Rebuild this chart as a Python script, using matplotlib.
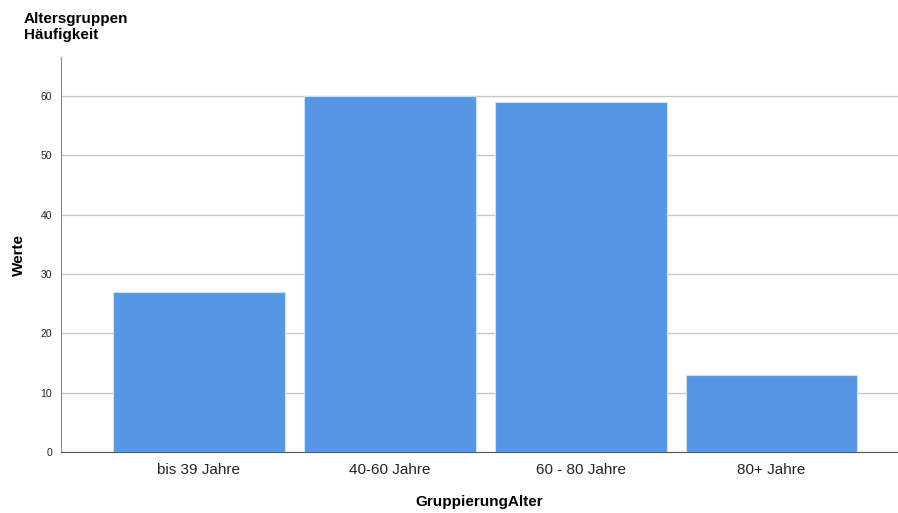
import matplotlib
matplotlib.use('Agg')
import matplotlib.pyplot as plt
import numpy as np

categories = ['bis 39 Jahre', '40-60 Jahre', '60 - 80 Jahre', '80+ Jahre']
counts = [27, 60, 59, 13]
y_ticks = [0, 10, 20, 30, 40, 50, 60]

plt.rcParams['font.family'] = ['Liberation Sans', 'DejaVu Sans']


def main():
    fig = plt.figure(figsize=(8.98, 5.13), dpi=100)
    ax = fig.add_axes([61 / 898, 1 - 452 / 513, 1 - 61 / 898, (452 - 57) / 513])

    x = np.arange(len(categories))
    ax.bar(x, counts, width=0.9, color='#5596e6', edgecolor='#cfe0f7',
           linewidth=0.8, zorder=3)

    ax.set_xlim(-0.723, 3.663)
    ax.set_ylim(0, 66.6)
    ax.set_xticks(x)
    ax.set_xticklabels(categories, fontsize=11, color='#222222')
    ax.set_yticks(y_ticks)
    ax.set_yticklabels([str(v) for v in y_ticks], fontsize=7.5, color='#222222')
    ax.tick_params(axis='both', length=0)
    ax.tick_params(axis='x', pad=8)
    ax.tick_params(axis='y', pad=6.5)

    ax.yaxis.grid(True, color='#c8c8c8', linewidth=1.0, zorder=0)
    ax.set_axisbelow(True)

    for side in ['top', 'right']:
        ax.spines[side].set_visible(False)
    ax.spines['left'].set_color('#888888')
    ax.spines['bottom'].set_color('#555555')

    ax.set_xlabel('GruppierungAlter', fontsize=11, fontweight='bold', labelpad=13)
    ax.set_ylabel('Werte', fontsize=11, fontweight='bold', labelpad=10)

    fig.text(24 / 898, 1 - 12 / 513, 'Altersgruppen\nHäufigkeit', fontsize=11,
             fontweight='bold', va='top', ha='left', linespacing=1.15)

    fig.savefig('out.png', dpi=100)


if __name__ == '__main__':
    main()
